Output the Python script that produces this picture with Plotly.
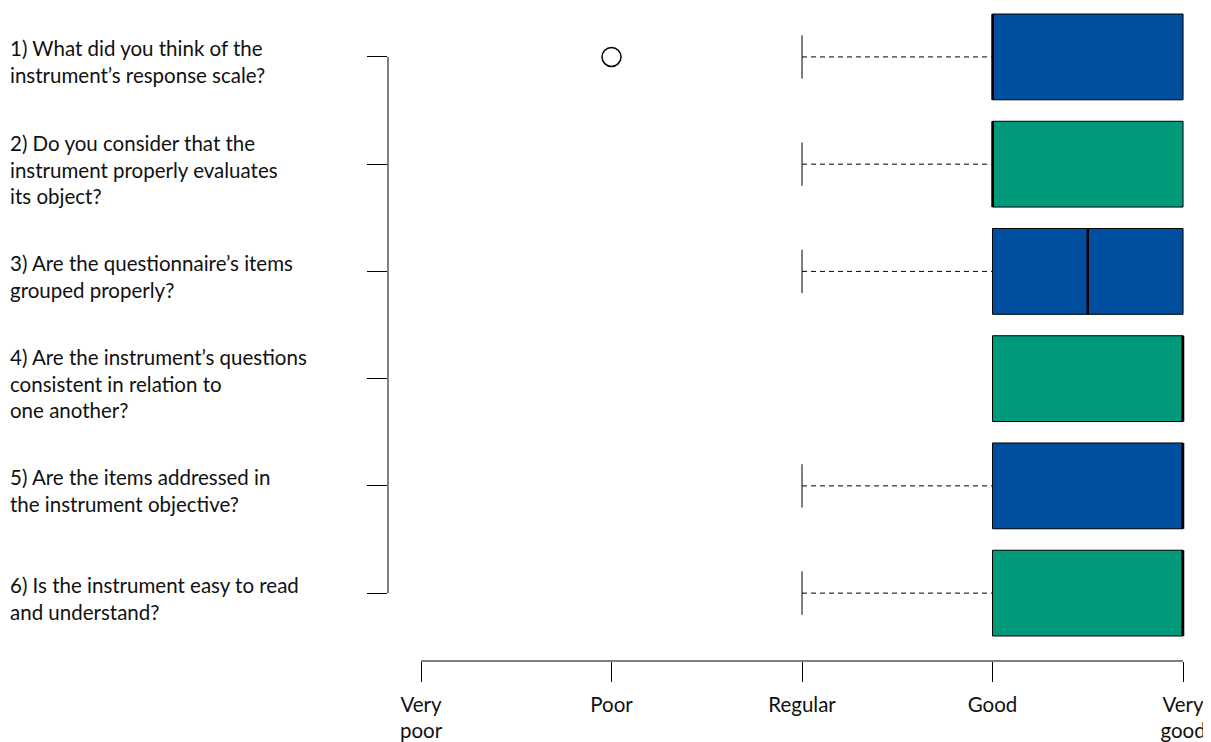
import plotly.graph_objects as go

questions = [
    "1) What did you think of the<br>instrument’s response scale?",
    "2) Do you consider that the<br>instrument properly evaluates<br>its object?",
    "3) Are the questionnaire’s items<br>grouped properly?",
    "4) Are the instrument’s questions<br>consistent in relation to<br>one another?",
    "5) Are the items addressed in<br>the instrument objective?",
    "6) Is the instrument easy to read<br>and understand?",
]
positions = [1, 2, 3, 4, 5, 6]
q1_vals = [4, 4, 4, 4, 4, 4]
median_vals = [4, 4, 4.5, 5, 5, 5]
q3_vals = [5, 5, 5, 5, 5, 5]
lower_whisker = [3, 3, 3, None, 3, 3]
outlier_x = [2]
outlier_y = [1]
box_colors = ["#004F9E", "#00997A", "#004F9E", "#00997A", "#004F9E", "#00997A"]
tick_vals = [1, 2, 3, 4, 5]
tick_text = ["Very<br>poor", "Poor", "Regular", "Good", "Very<br>good"]

FONT = "Lato"
FS = 20.5
fig = go.Figure()

for i, p in enumerate(positions):
    if lower_whisker[i] is not None:
        fig.add_trace(go.Scatter(
            x=[lower_whisker[i], q1_vals[i]], y=[p, p], mode="lines",
            line=dict(color="black", width=1, dash="5px,4px"),
            showlegend=False, hoverinfo="skip"))
        fig.add_trace(go.Scatter(
            x=[lower_whisker[i]], y=[p], mode="markers",
            marker=dict(symbol="line-ns", size=31, line=dict(color="black", width=1)),
            showlegend=False, hoverinfo="skip"))
    fig.add_trace(go.Box(
        y=[p], q1=[q1_vals[i]], median=[median_vals[i]], q3=[q3_vals[i]],
        lowerfence=[q1_vals[i]], upperfence=[q3_vals[i]],
        orientation="h", width=0.8, whiskerwidth=0,
        fillcolor=box_colors[i], line=dict(color="black", width=1),
        boxpoints=False, showlegend=False, hoverinfo="skip"))
    fig.add_trace(go.Scatter(
        x=[median_vals[i], median_vals[i]], y=[p - 0.4, p + 0.4], mode="lines",
        line=dict(color="black", width=2.5), showlegend=False, hoverinfo="skip"))

fig.add_trace(go.Scatter(
    x=outlier_x, y=outlier_y, mode="markers",
    marker=dict(symbol="circle-open", size=19, color="black", line=dict(width=1.5)),
    showlegend=False, hoverinfo="skip"))

fig.add_shape(type="line", xref="x", yref="paper", x0=tick_vals[0], x1=tick_vals[-1],
              y0=0, y1=0, line=dict(color="black", width=1))
fig.add_shape(type="line", xref="paper", yref="y", x0=0, x1=0,
              y0=positions[0], y1=positions[-1], line=dict(color="black", width=1))

for q, p in zip(questions, positions):
    fig.add_annotation(text=q, xref="paper", yref="y", x=-0.468, y=p,
                       xanchor="left", yanchor="middle", align="left",
                       showarrow=False, yshift=-5,
                       font=dict(family=FONT, size=FS, color="#111111"))

fig.update_layout(
    width=1203, height=734,
    margin=dict(l=380, r=11, t=0, b=78, pad=0),
    paper_bgcolor="white", plot_bgcolor="white",
    font=dict(family=FONT, size=FS, color="#111111"),
    xaxis=dict(range=[0.8268, 5.089], tickvals=tick_vals, ticktext=tick_text,
               ticks="outside", ticklen=20, tickcolor="black", tickwidth=1,
               ticklabelstandoff=5,
               showline=False, showgrid=False, zeroline=False,
               tickfont=dict(family=FONT, size=FS, color="#111111")),
    yaxis=dict(range=[6.633, 0.5438], tickvals=positions, showticklabels=False,
               ticks="outside", ticklen=20, tickcolor="black", tickwidth=1,
               showline=False, showgrid=False, zeroline=False),
)

fig.write_html("out.html")
